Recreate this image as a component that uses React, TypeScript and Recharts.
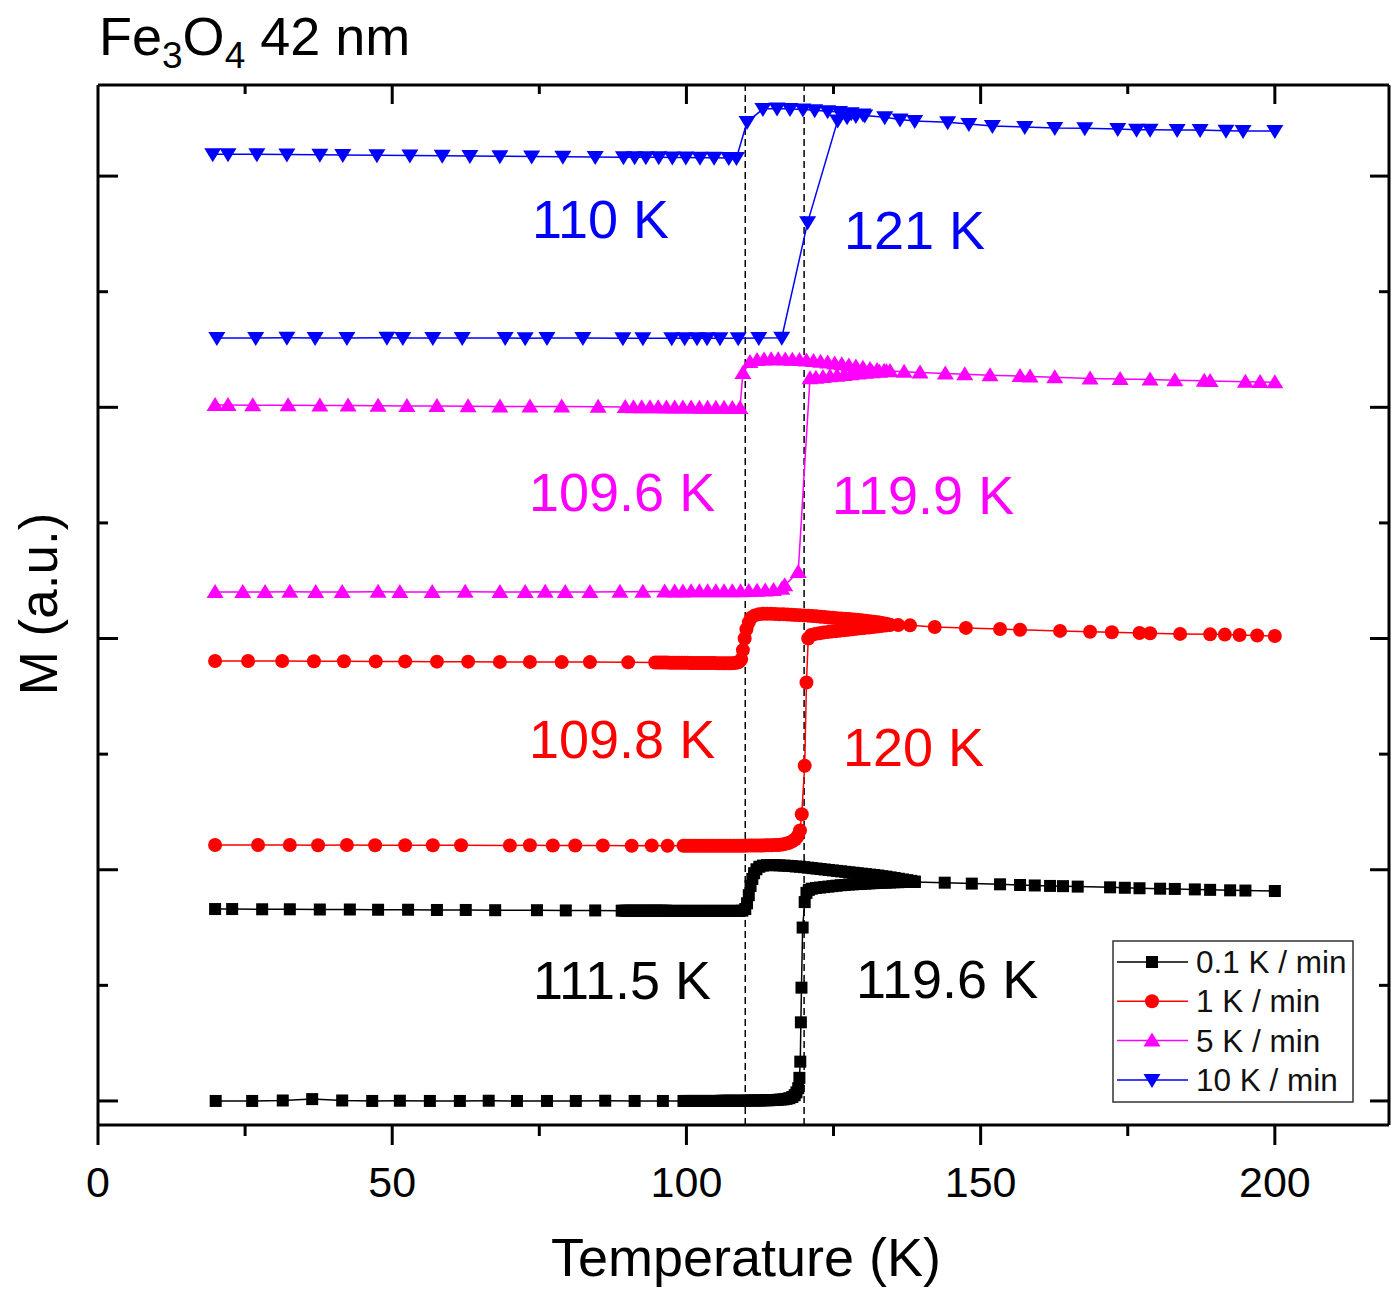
import React from 'react';
import { LineChart, Line, XAxis, YAxis, ReferenceLine } from 'recharts';

type P = [number, number];

// ---------- data: [temperature K, magnetization a.u. (offset)] ----------
const blackWarm: P[] = [
  [20, 0], [26.2, 0], [31.4, 0.002], [36.4, 0.008], [41.5, 0.002], [46.6, 0], [51.3, 0.001], [56.4, 0],
  [61.5, 0], [66.4, 0.001], [71.2, 0], [76.3, 0], [81.2, 0], [86.2, 0.001], [91.2, 0], [96, 0],
  [99.5, 0], [100, 0], [100.5, 0], [101, 0], [101.5, 0], [102, 0], [102.5, 0], [103, 0], [103.5, 0],
  [104, 0], [104.5, 0], [105, 0], [105.5, 0], [106, 0.001], [106.5, 0.001], [107, 0.001], [107.5, 0.001],
  [108, 0.001], [108.5, 0.001], [109, 0.001], [109.5, 0.001], [110, 0.001], [110.5, 0.002], [111, 0.002],
  [111.5, 0.002], [112, 0.002], [112.5, 0.002], [113, 0.003], [113.5, 0.003], [114, 0.003], [114.5, 0.004],
  [115, 0.004], [115.5, 0.005], [116, 0.006], [116.5, 0.007], [117, 0.009], [117.5, 0.012], [118, 0.017],
  [118.4, 0.025], [118.7, 0.037], [119, 0.055], [119.2, 0.1], [119.35, 0.17], [119.45, 0.34], [119.55, 0.49],
  [119.75, 0.75], [120.1, 0.86], [120.4, 0.9], [120.8, 0.913], [121.3, 0.918], [122, 0.921], [122.7, 0.923],
  [123.4, 0.925], [124.1, 0.927], [124.8, 0.929], [125.5, 0.931], [126.2, 0.933], [126.9, 0.934], [127.6, 0.936],
  [128.3, 0.937], [129, 0.938], [129.7, 0.939], [130.4, 0.94], [131.1, 0.941], [131.8, 0.942], [132.5, 0.943],
  [133.2, 0.944], [133.9, 0.944], [134.6, 0.945], [135.3, 0.946], [136, 0.946], [136.8, 0.947], [137.6, 0.947],
  [138.8, 0.947], [143.9, 0.944], [148.5, 0.94], [153.3, 0.937], [156.7, 0.934], [159.2, 0.932], [161.8, 0.93],
  [164, 0.929], [166.5, 0.927], [172, 0.924], [174.5, 0.922], [177, 0.92], [180.5, 0.918], [183, 0.917],
  [186.4, 0.915], [189, 0.913], [192.4, 0.911], [195, 0.91], [200, 0.908],
];

const blackCool: P[] = [
  [19.9, 0.83], [22.8, 0.83], [27.9, 0.829], [32.6, 0.829], [37.7, 0.828], [42.8, 0.828], [47.6, 0.827],
  [52.7, 0.827], [57.6, 0.826], [62.5, 0.826], [67.5, 0.825], [74.6, 0.825], [79.5, 0.824], [84.5, 0.824],
  [89, 0.823], [89.5, 0.823], [90, 0.823], [90.5, 0.823], [91, 0.823], [91.5, 0.823], [92, 0.823], [92.5, 0.823],
  [93, 0.823], [93.5, 0.823], [94, 0.823], [94.5, 0.823], [95, 0.823], [95.5, 0.823], [96, 0.823], [96.5, 0.823],
  [97, 0.822], [97.5, 0.822], [98, 0.822], [98.5, 0.822], [99, 0.822], [99.5, 0.822], [100, 0.822], [100.5, 0.822],
  [101, 0.822], [101.5, 0.822], [102, 0.822], [102.5, 0.822], [103, 0.822], [103.5, 0.822], [104, 0.822],
  [104.5, 0.822], [105, 0.822], [105.5, 0.822], [106, 0.822], [106.5, 0.822], [107, 0.822], [107.5, 0.822],
  [108, 0.822], [108.5, 0.822], [109, 0.822], [109.5, 0.823], [110, 0.83], [110.3, 0.855], [110.6, 0.89],
  [110.9, 0.93], [111.2, 0.96], [111.5, 0.985], [111.9, 1.002], [112.4, 1.013], [113, 1.018], [113.7, 1.02],
  [114.4, 1.02], [115.1, 1.02], [115.8, 1.019], [116.5, 1.018], [117.2, 1.017], [117.9, 1.016], [118.6, 1.014],
  [119.3, 1.013], [120, 1.011], [120.7, 1.009], [121.4, 1.007], [122.1, 1.005], [122.8, 1.003], [123.5, 1.001],
  [124.2, 0.999], [124.9, 0.997], [125.6, 0.995], [126.3, 0.993], [127, 0.991], [127.7, 0.989], [128.4, 0.987],
  [129.1, 0.985], [129.8, 0.983], [130.5, 0.981], [131.2, 0.979], [131.9, 0.977], [132.6, 0.975], [133.3, 0.972],
  [134, 0.97], [134.7, 0.967], [135.4, 0.964], [136.1, 0.961], [136.8, 0.958], [137.5, 0.955], [138.2, 0.952],
  [138.8, 0.949],
];

const redWarm: P[] = [
  [19.9, 1.107], [27.2, 1.107], [32.6, 1.107], [37.4, 1.106], [42.3, 1.107], [47.1, 1.106], [52.2, 1.106],
  [56.9, 1.106], [61.7, 1.106], [70, 1.105], [73.4, 1.106], [77.3, 1.105], [81.1, 1.105], [85.8, 1.105],
  [90.7, 1.104], [94.1, 1.105], [96.8, 1.104], [99.5, 1.104], [100, 1.104], [100.5, 1.104], [101, 1.104],
  [101.5, 1.104], [102, 1.104], [102.5, 1.104], [103, 1.104], [103.5, 1.104], [104, 1.104], [104.5, 1.104],
  [105, 1.104], [105.5, 1.104], [106, 1.104], [106.5, 1.104], [107, 1.104], [107.5, 1.104], [108, 1.104],
  [108.5, 1.104], [109, 1.104], [109.5, 1.104], [110, 1.104], [110.5, 1.105], [111, 1.105], [111.5, 1.105],
  [112, 1.105], [112.5, 1.105], [113, 1.105], [113.5, 1.106], [114, 1.106], [114.5, 1.106], [115, 1.107],
  [115.5, 1.107], [116, 1.108], [116.5, 1.11], [117, 1.113], [117.5, 1.117], [118, 1.123], [118.5, 1.132],
  [118.9, 1.145], [119.3, 1.17], [119.6, 1.24], [120.1, 1.45], [120.4, 1.81], [120.7, 2.0], [121.2, 2.015],
  [121.9, 2.02], [122.6, 2.023], [123.3, 2.026], [124, 2.028], [124.7, 2.03], [125.4, 2.032], [126.1, 2.034],
  [126.8, 2.036], [127.5, 2.038], [128.2, 2.04], [128.9, 2.042], [129.6, 2.044], [130.3, 2.046], [131, 2.048],
  [131.7, 2.05], [132.4, 2.052], [133.1, 2.054], [133.8, 2.056], [134.6, 2.058], [136, 2.058], [138, 2.057],
  [142.2, 2.05], [147.5, 2.046], [153.3, 2.041], [156.7, 2.038], [163.5, 2.033], [168.6, 2.029], [172.3, 2.027],
  [177, 2.024], [178.8, 2.023], [183.9, 2.02], [189, 2.018], [191.5, 2.017], [194, 2.015], [197, 2.013], [200, 2.011],
];

const redCool: P[] = [
  [19.9, 1.903], [25.5, 1.903], [31.3, 1.903], [36.7, 1.902], [41.8, 1.902], [47.2, 1.901], [52.2, 1.901],
  [57.6, 1.9], [62.9, 1.9], [68.3, 1.899], [73.4, 1.899], [78.8, 1.898], [83.6, 1.898], [90.1, 1.897],
  [94.7, 1.896], [95.2, 1.896], [95.7, 1.896], [96.2, 1.896], [96.7, 1.896], [97.2, 1.895], [97.7, 1.895],
  [98.2, 1.895], [98.7, 1.895], [99.2, 1.895], [99.7, 1.895], [100.2, 1.895], [100.7, 1.894], [101.2, 1.894],
  [101.7, 1.894], [102.2, 1.894], [102.7, 1.894], [103.2, 1.894], [103.7, 1.894], [104.2, 1.894], [104.7, 1.894],
  [105.2, 1.893], [105.7, 1.893], [106.2, 1.893], [106.7, 1.893], [107.2, 1.893], [107.7, 1.893], [108.2, 1.894],
  [108.7, 1.896], [109, 1.9], [109.3, 1.91], [109.6, 1.95], [109.9, 2.0], [110.2, 2.04], [110.6, 2.07],
  [111, 2.09], [111.6, 2.1], [112.3, 2.105], [113, 2.107], [113.7, 2.107], [114.4, 2.107], [115.1, 2.106],
  [115.8, 2.105], [116.5, 2.105], [117.2, 2.104], [117.9, 2.103], [118.6, 2.102], [119.3, 2.101], [120, 2.1],
  [120.7, 2.099], [121.4, 2.097], [122.1, 2.096], [122.8, 2.094], [123.5, 2.093], [124.2, 2.091], [124.9, 2.09],
  [125.6, 2.088], [126.3, 2.087], [127, 2.085], [127.7, 2.084], [128.4, 2.082], [129.1, 2.081], [129.8, 2.079],
  [130.5, 2.077], [131.2, 2.075], [131.9, 2.073], [132.6, 2.07], [133.3, 2.067], [134, 2.064], [134.6, 2.06],
];

const magentaWarm: P[] = [
  [19.9, 2.201], [24.6, 2.201], [28.4, 2.201], [32.6, 2.202], [37, 2.201], [41.5, 2.201], [47.6, 2.202],
  [51.3, 2.201], [56.8, 2.201], [62.4, 2.202], [68.3, 2.201], [72.6, 2.201], [76, 2.202], [79.4, 2.201],
  [83.6, 2.201], [88.7, 2.202], [92.6, 2.202], [96.3, 2.203], [98, 2.203], [99.4, 2.203], [100.8, 2.204],
  [102.2, 2.204], [103.6, 2.204], [105, 2.204], [106.4, 2.205], [107.8, 2.205], [109.2, 2.205], [110.6, 2.206],
  [112, 2.207], [113.4, 2.208], [114.8, 2.21], [116.2, 2.215], [116.7, 2.23], [119, 2.288], [121, 3.126],
  [122, 3.128], [123.2, 3.131], [124.4, 3.134], [125.6, 3.137], [126.8, 3.14], [128, 3.143], [129.2, 3.146],
  [130.4, 3.149], [131.6, 3.152], [132.8, 3.154], [134, 3.156], [134.6, 3.157], [137, 3.154], [139.7, 3.151],
  [144, 3.146], [147.3, 3.143], [151.6, 3.139], [156.7, 3.135], [158.4, 3.133], [162.6, 3.13], [168.6, 3.125],
  [173.7, 3.122], [178.8, 3.12], [183, 3.117], [188, 3.115], [189, 3.114], [195, 3.111], [197.5, 3.109], [200, 3.108],
];

const magentaCool: P[] = [
  [19.9, 3.01], [22.1, 3.01], [26.3, 3.009], [32.3, 3.009], [37.7, 3.008], [42.5, 3.008], [47.6, 3.007],
  [52.5, 3.006], [57.6, 3.006], [62.9, 3.005], [68.3, 3.004], [73.4, 3.003], [78.8, 3.003], [85, 3.002],
  [89.6, 3.001], [91, 3.0], [92.4, 3.0], [93.8, 3.0], [95.2, 3.0], [96.6, 2.999], [98, 2.999], [99.4, 2.999],
  [100.8, 2.999], [102.2, 2.998], [103.6, 2.998], [105, 2.998], [106.4, 2.998], [107.8, 2.997], [109.1, 2.997],
  [109.6, 3.148], [110.8, 3.196], [112, 3.205], [113.2, 3.207], [114.4, 3.208], [115.6, 3.208], [116.8, 3.207],
  [118, 3.206], [119.2, 3.205], [120.4, 3.203], [121.6, 3.2], [122.8, 3.197], [124, 3.194], [125.2, 3.19],
  [126.4, 3.186], [127.6, 3.181], [128.8, 3.176], [130, 3.171], [131.2, 3.166], [132.4, 3.161], [133.6, 3.158],
];

const blueWarm: P[] = [
  [20.2, 3.3], [26.8, 3.3], [32.1, 3.301], [36.9, 3.3], [42.3, 3.3], [49.1, 3.301], [51.8, 3.3], [56.9, 3.3],
  [61.9, 3.3], [69.2, 3.3], [72.6, 3.299], [76.3, 3.3], [82.4, 3.3], [89.2, 3.299], [92.6, 3.299], [97.5, 3.299],
  [99.7, 3.299], [101.8, 3.299], [103.5, 3.299], [105.7, 3.299], [108.8, 3.299], [112.3, 3.3], [116.2, 3.301],
  [120.6, 3.8], [125.7, 4.24], [127.3, 4.255], [128.8, 4.26], [130.3, 4.262], [133.7, 4.255], [136.3, 4.245],
  [138.8, 4.238], [144.4, 4.233], [148, 4.225], [152, 4.217], [157.5, 4.212], [162.6, 4.208], [167.7, 4.207],
  [173.3, 4.204], [176.5, 4.2], [178.8, 4.2], [183.4, 4.199], [187.3, 4.199], [191.7, 4.196], [194.6, 4.195],
  [200, 4.195],
];

const blueCool: P[] = [
  [19.5, 4.095], [22.1, 4.095], [27, 4.094], [32.1, 4.093], [37.7, 4.092], [41.6, 4.091], [47.4, 4.09],
  [53, 4.089], [58.5, 4.088], [63.2, 4.087], [68.3, 4.086], [73.7, 4.085], [79, 4.084], [84.5, 4.083],
  [89.3, 4.082], [91.2, 4.082], [93.1, 4.081], [95.3, 4.081], [97.6, 4.08], [99.9, 4.08], [102.3, 4.079],
  [104.7, 4.079], [107.2, 4.078], [108.5, 4.078], [110.3, 4.234], [113, 4.29], [115.4, 4.292], [117.6, 4.29],
  [119.8, 4.288], [121.8, 4.285], [124, 4.281], [126, 4.277], [128, 4.272], [130, 4.266],
];

const X_TICKS = [0, 25, 50, 75, 100, 125, 150, 175, 200];
const X_LABELS = [0, 50, 100, 150, 200];
const Y_TICKS = [0, 0.5, 1, 1.5, 2, 2.5, 3, 3.5, 4];
const TRANSITIONS = [110, 120];

type Shape = 'square' | 'circle' | 'up' | 'down';
const SERIES: { name: string; color: string; shape: Shape; warm: P[]; cool: P[] }[] = [
  { name: '0.1 K / min', color: '#000000', shape: 'square', warm: blackWarm, cool: blackCool },
  { name: '1 K / min', color: '#ff0000', shape: 'circle', warm: redWarm, cool: redCool },
  { name: '5 K / min', color: '#ff00ff', shape: 'up', warm: magentaWarm, cool: magentaCool },
  { name: '10 K / min', color: '#0000ff', shape: 'down', warm: blueWarm, cool: blueCool },
];

const FONT = '"Liberation Sans", Arial, Helvetica, sans-serif';

function Marker({ shape, cx, cy, color }: { shape: Shape; cx: number; cy: number; color: string }) {
  if (cx == null || cy == null || isNaN(cx) || isNaN(cy)) return null;
  if (shape === 'square') return <rect x={cx - 6} y={cy - 6} width={12} height={12} fill={color} />;
  if (shape === 'circle') return <circle cx={cx} cy={cy} r={7} fill={color} />;
  if (shape === 'up')
    return <polygon points={`${cx},${cy - 8} ${cx - 8.5},${cy + 6} ${cx + 8.5},${cy + 6}`} fill={color} />;
  return <polygon points={`${cx - 8.5},${cy - 6} ${cx + 8.5},${cy - 6} ${cx},${cy + 8}`} fill={color} />;
}

const toRows = (a: P[]) => a.map(([t, m]) => ({ t, m }));

const BottomTick = (props: any) => {
  const { x, y, payload } = props;
  const major = X_LABELS.includes(payload.value);
  return (
    <g>
      <line x1={x} y1={y} x2={x} y2={y + (major ? 20 : 11)} stroke="#000" strokeWidth={3} />
      {major && (
        <text x={x} y={y + 72} textAnchor="middle" fontSize={43} fontFamily={FONT} fill="#000">
          {payload.value}
        </text>
      )}
    </g>
  );
};
const TopTick = (props: any) => {
  const { x, y, payload } = props;
  const major = X_LABELS.includes(payload.value);
  if (payload.value === 0) return <g />;
  return <line x1={x} y1={y} x2={x} y2={y + (major ? 19 : 9)} stroke="#000" strokeWidth={3} />;
};
const LeftTick = (props: any) => {
  const { x, y, payload } = props;
  const major = Number.isInteger(payload.value);
  return <line x1={x} y1={y} x2={x + (major ? 20 : 10)} y2={y} stroke="#000" strokeWidth={3} />;
};
const RightTick = (props: any) => {
  const { x, y, payload } = props;
  const major = Number.isInteger(payload.value);
  return <line x1={x} y1={y} x2={x - (major ? 19 : 10)} y2={y} stroke="#000" strokeWidth={3} />;
};

export default function App() {
  const W = 1391;
  const H = 1289;
  const xDomain: [number, number] = [0, 219.4];
  const yDomain: [number, number] = [-0.104, 4.394];
  return (
    <div style={{ position: 'absolute', left: 0, top: 0, width: W, height: H, overflow: 'hidden', background: '#fff' }}>
      <LineChart width={W} height={H} margin={{ top: 80, right: 0, bottom: 104, left: 78 }}>
        <XAxis
          xAxisId={0}
          type="number"
          dataKey="t"
          domain={xDomain}
          allowDataOverflow
          ticks={X_TICKS}
          interval={0}
          height={60}
          tickSize={0}
          tickMargin={0}
          tickLine={false}
          axisLine={{ stroke: '#000', strokeWidth: 3 }}
          tick={<BottomTick />}
        />
        <XAxis
          xAxisId="top"
          orientation="top"
          type="number"
          dataKey="t"
          domain={xDomain}
          allowDataOverflow
          ticks={X_TICKS}
          interval={0}
          height={5}
          tickSize={0}
          tickMargin={0}
          tickLine={false}
          axisLine={{ stroke: '#000', strokeWidth: 3 }}
          tick={<TopTick />}
        />
        <YAxis
          yAxisId={0}
          type="number"
          domain={yDomain}
          allowDataOverflow
          ticks={Y_TICKS}
          interval={0}
          width={20}
          tickSize={0}
          tickMargin={0}
          tickLine={false}
          axisLine={{ stroke: '#000', strokeWidth: 3 }}
          tick={<LeftTick />}
        />
        <YAxis
          yAxisId="right"
          orientation="right"
          type="number"
          domain={yDomain}
          allowDataOverflow
          ticks={Y_TICKS}
          interval={0}
          width={2}
          tickSize={0}
          tickMargin={0}
          tickLine={false}
          axisLine={{ stroke: '#000', strokeWidth: 3 }}
          tick={<RightTick />}
        />
        {TRANSITIONS.map((t) => (
          <ReferenceLine
            key={`tr-${t}`}
            x={t}
            xAxisId={0}
            yAxisId={0}
            stroke="#000"
            strokeWidth={1.5}
            strokeDasharray="7 4"
          />
        ))}
        {SERIES.flatMap((s) =>
          (['cool', 'warm'] as const).map((br) => (
            <Line
              key={`${s.name}-${br}`}
              xAxisId={0}
              yAxisId={0}
              data={toRows(s[br])}
              dataKey="m"
              type="linear"
              stroke={s.color}
              strokeWidth={1.5}
              isAnimationActive={false}
              activeDot={false}
              legendType="none"
              dot={(p: any) => (
                <Marker key={`${s.name}-${br}-${p.index}`} shape={s.shape} cx={p.cx} cy={p.cy} color={s.color} />
              )}
            />
          ))
        )}
      </LineChart>

      <svg
        width={W}
        height={H}
        style={{ position: 'absolute', left: 0, top: 0, pointerEvents: 'none' }}
        fontFamily={FONT}
      >
        {/* title */}
        <text x={99} y={55} fontSize={54} fill="#000">
          Fe<tspan fontSize={37} dy={13}>3</tspan>
          <tspan fontSize={54} dy={-13}>O</tspan>
          <tspan fontSize={37} dy={13}>4</tspan>
          <tspan fontSize={54} dy={-13}> 42 nm</tspan>
        </text>
        {/* axis titles */}
        <text x={746} y={1276} fontSize={54} textAnchor="middle" fill="#000">
          Temperature (K)
        </text>
        <text
          x={0}
          y={0}
          fontSize={53}
          textAnchor="middle"
          fill="#000"
          transform="translate(57 604) rotate(-90)"
        >
          M (a.u.)
        </text>
        {/* transition temperature annotations */}
        <text x={532} y={238} fontSize={54} fill="#0000ff">110 K</text>
        <text x={844} y={249} fontSize={54} fill="#0000ff">121 K</text>
        <text x={529} y={511} fontSize={54} fill="#ff00ff">109.6 K</text>
        <text x={832} y={514} fontSize={54} fill="#ff00ff">119.9 K</text>
        <text x={529} y={758} fontSize={54} fill="#ff0000">109.8 K</text>
        <text x={843} y={766} fontSize={54} fill="#ff0000">120 K</text>
        <text x={533} y={999} fontSize={54} fill="#000">111.5 K</text>
        <text x={856} y={998} fontSize={54} fill="#000">119.6 K</text>
        {/* legend */}
        <rect x={1113} y={941} width={240} height={161} fill="#fff" stroke="#333" strokeWidth={1.5} />
        {SERIES.map((s, i) => {
          const cy = 962 + i * 39.3;
          return (
            <g key={`lg-${s.name}`}>
              <line x1={1117} y1={cy} x2={1188} y2={cy} stroke={s.color} strokeWidth={1.5} />
              <Marker shape={s.shape} cx={1152} cy={cy} color={s.color} />
              <text x={1196} y={cy + 11} fontSize={31.5} fill="#111">
                {s.name}
              </text>
            </g>
          );
        })}
      </svg>
    </div>
  );
}
